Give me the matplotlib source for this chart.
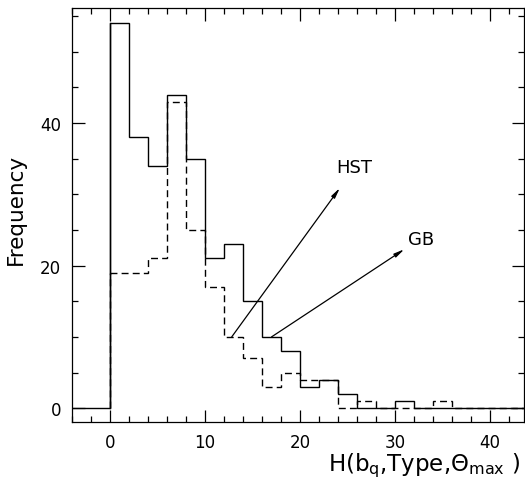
import matplotlib
matplotlib.use("Agg")
import matplotlib.pyplot as plt
from matplotlib.ticker import MultipleLocator

# Bin edges and frequencies
solid_edges = [-4, 0, 2, 4, 6, 8, 10, 12, 14, 16, 18, 20, 22, 24, 26, 28, 30, 32, 34, 36, 38, 40, 42, 44]
solid_counts = [0, 54, 38, 34, 44, 35, 21, 23, 15, 10, 8, 3, 4, 2, 0, 0, 1, 0, 0, 0, 0, 0, 0]
dashed_edges = [0, 2, 4, 6, 8, 10, 12, 14, 16, 18, 20, 22, 24, 26, 28, 30, 32, 34, 36, 38, 40, 42, 44]
dashed_counts = [19, 19, 21, 43, 25, 17, 10, 7, 3, 5, 4, 4, 0, 1, 0, 0, 0, 1, 0, 0, 0, 0]

# Annotations: label, label position, arrow start, arrow tip
hst_label = "HST"
hst_text = (25.7, 33.8)
hst_start = (12.8, 10.0)
hst_tip = (24.2, 30.9)
gb_label = "GB"
gb_text = (32.7, 23.7)
gb_start = (17.0, 10.0)
gb_tip = (31.0, 22.3)

fig = plt.figure(figsize=(5.25, 4.81), dpi=100)
ax = fig.add_axes([72.3 / 525, 1 - 422.7 / 481, (524 - 72.3) / 525, (422.7 - 9.3) / 481])

ax.stairs(solid_counts, solid_edges, color="black", lw=1.0, baseline=None)
ax.plot([0, 0], [0, solid_counts[1]], color="black", lw=1.0)
ax.stairs(dashed_counts, dashed_edges, color="black", lw=1.0, linestyle=(0, (5, 3)), baseline=None)
ax.plot([0, 0], [0, dashed_counts[0]], color="black", lw=1.0, linestyle=(0, (5, 3)))

for start, tip in [(hst_start, hst_tip), (gb_start, gb_tip)]:
    ax.annotate("", xy=tip, xytext=start,
                arrowprops=dict(arrowstyle="-|>,head_length=0.6,head_width=0.12",
                                color="black", lw=0.9, shrinkA=0, shrinkB=0))
ax.text(*hst_text, hst_label, fontsize=13, ha="center", va="center")
ax.text(*gb_text, gb_label, fontsize=13, ha="center", va="center")

ax.set_xlim(-4, 43.6)
ax.set_ylim(-1.9, 56.1)
ax.xaxis.set_major_locator(MultipleLocator(10))
ax.xaxis.set_minor_locator(MultipleLocator(2))
ax.yaxis.set_major_locator(MultipleLocator(20))
ax.yaxis.set_minor_locator(MultipleLocator(5))
ax.tick_params(which="both", direction="in", top=True, right=True, labelsize=12, width=0.9)
ax.tick_params(which="major", length=9, pad=8)
ax.tick_params(which="minor", length=4.5)
for s in ax.spines.values():
    s.set_linewidth(0.9)

ax.set_ylabel("Frequency", fontsize=15.5)
ax.yaxis.set_label_coords((26 - 72.3) / 451.7, (422.7 - 209) / 413.4)
ax.set_xlabel(r"H(b$_{\mathrm{q}}$,Type,$\Theta_{\mathrm{max}}$ )", fontsize=16.5, ha="right")
ax.xaxis.set_label_coords((520 - 72.3) / 451.7, (422.7 - 466) / 413.4)
ax.xaxis.label.set_va("center")

fig.savefig("out.png", dpi=100)
